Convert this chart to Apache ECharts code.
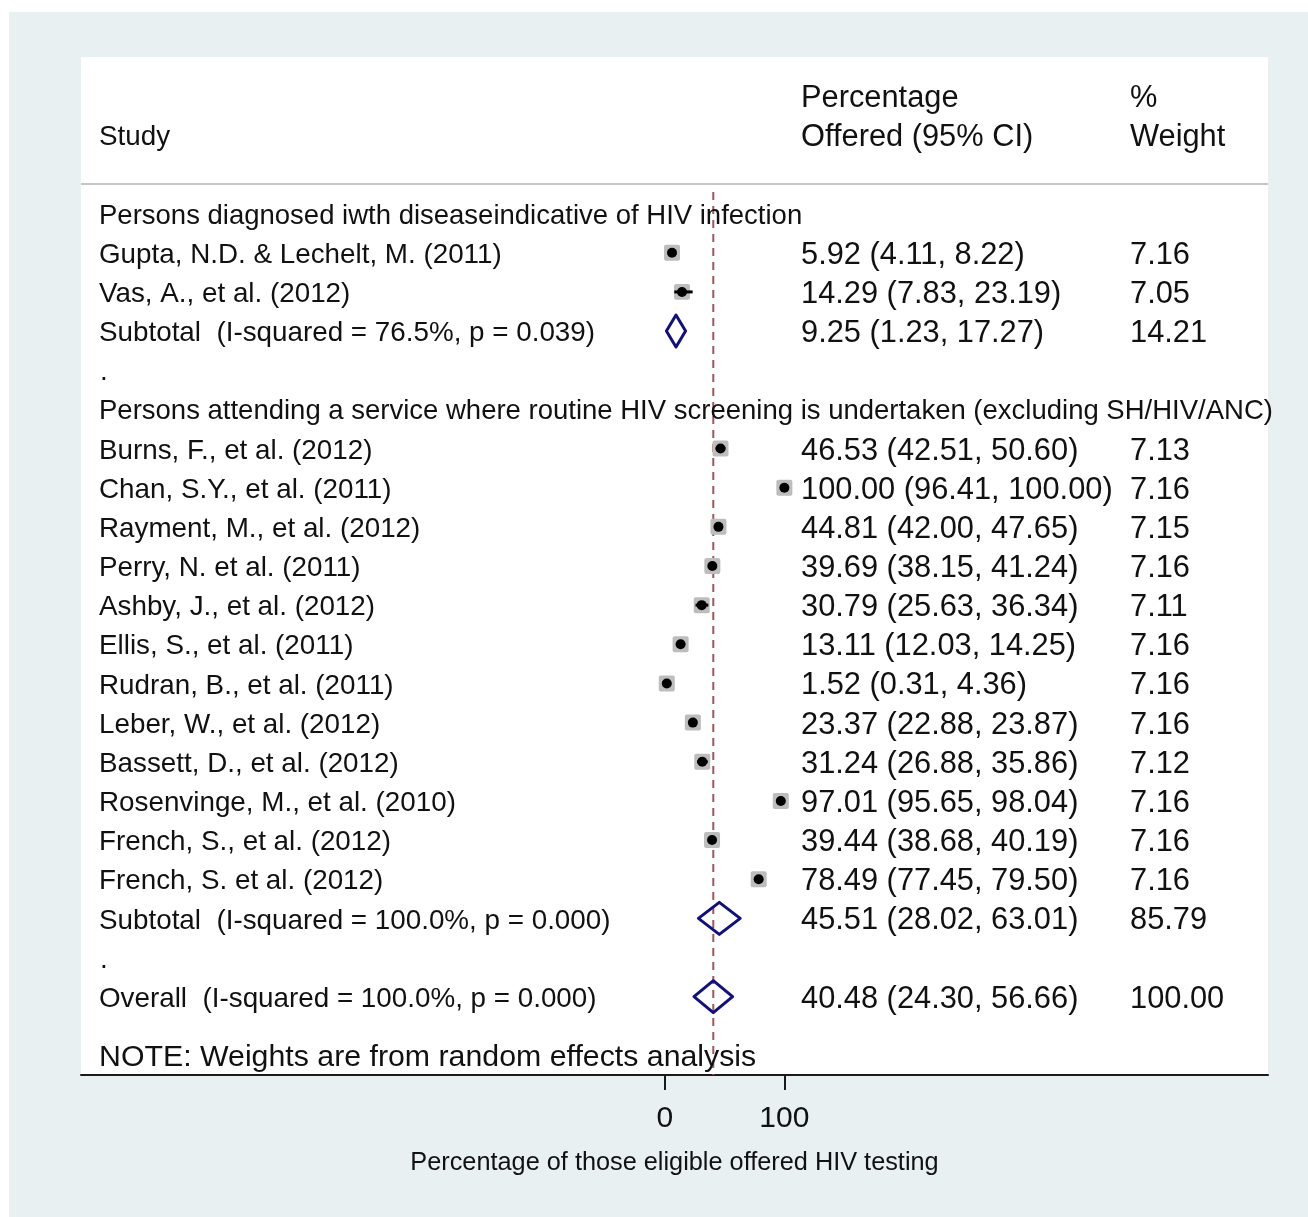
<!DOCTYPE html>
<html>
<head>
<meta charset="utf-8">
<title>Percentage of those eligible offered HIV testing</title>
<script src="https://cdn.jsdelivr.net/npm/echarts@6/dist/echarts.min.js"></script>
<style>
  html, body { margin: 0; padding: 0; background: #ffffff; }
  #chart { width: 1308px; height: 1217px; }
</style>
</head>
<body>
<div id="chart"></div>
<script>
// ---- Subgroup 1 ----
const group1Title = "Persons diagnosed iwth diseaseindicative of HIV infection";
const group1Studies = ["Gupta, N.D. & Lechelt, M. (2011)", "Vas, A., et al. (2012)"];
const group1Estimate = [5.92, 14.29];
const group1Lower = [4.11, 7.83];
const group1Upper = [8.22, 23.19];
const group1Weight = [7.16, 7.05];

// ---- Subgroup 2 ----
const group2Title = "Persons attending a service where routine HIV screening is undertaken (excluding SH/HIV/ANC)";
const group2Studies = [
  "Burns, F., et al. (2012)",
  "Chan, S.Y., et al. (2011)",
  "Rayment, M., et al. (2012)",
  "Perry, N. et al. (2011)",
  "Ashby, J., et al. (2012)",
  "Ellis, S., et al. (2011)",
  "Rudran, B., et al. (2011)",
  "Leber, W., et al. (2012)",
  "Bassett, D., et al. (2012)",
  "Rosenvinge, M., et al. (2010)",
  "French, S., et al. (2012)",
  "French, S. et al. (2012)"
];
const group2Estimate = [46.53, 100.00, 44.81, 39.69, 30.79, 13.11, 1.52, 23.37, 31.24, 97.01, 39.44, 78.49];
const group2Lower = [42.51, 96.41, 42.00, 38.15, 25.63, 12.03, 0.31, 22.88, 26.88, 95.65, 38.68, 77.45];
const group2Upper = [50.60, 100.00, 47.65, 41.24, 36.34, 14.25, 4.36, 23.87, 35.86, 98.04, 40.19, 79.50];
const group2Weight = [7.13, 7.16, 7.15, 7.16, 7.11, 7.16, 7.16, 7.16, 7.12, 7.16, 7.16, 7.16];

// ---- Pooled estimates ----
const subtotalLabels = ["Subtotal  (I-squared = 76.5%, p = 0.039)", "Subtotal  (I-squared = 100.0%, p = 0.000)"];
const subtotalEstimate = [9.25, 45.51];
const subtotalLower = [1.23, 28.02];
const subtotalUpper = [17.27, 63.01];
const subtotalWeight = [14.21, 85.79];

const overallLabel = "Overall  (I-squared = 100.0%, p = 0.000)";
const overallEstimate = 40.48;
const overallLower = 24.30;
const overallUpper = 56.66;
const overallWeight = 100.00;

// ---- Text ----
const headerStudy = "Study";
const headerEstimate = ["Percentage", "Offered (95% CI)"];
const headerWeight = ["%", "Weight"];
const noteText = "NOTE: Weights are from random effects analysis";
const axisTitle = "Percentage of those eligible offered HIV testing";
const xTicks = [0, 100];

// ---- Layout / style ----
const FONT = '"Liberation Sans", Arial, Helvetica, sans-serif';
const TEXT = '#111111';
const LABEL_SIZE = 27.8;
const NUM_SIZE = 30.8;
const TEXT_DY = 2.5;
const COL_STUDY = 99, COL_EST = 801, COL_WT = 1130;
const NAVY = '#10107e';
const BOX = '#bdbdbd';

function fontAvailable(name) {
  const ctx = document.createElement('canvas').getContext('2d');
  const probe = 'Percentage of those eligible';
  ctx.font = '30px monospace';
  const a = ctx.measureText(probe).width;
  ctx.font = '30px "' + name + '", monospace';
  const b = ctx.measureText(probe).width;
  return Math.abs(a - b) > 0.5;
}
const narrow = fontAvailable('Liberation Sans Narrow');
const titleFont = narrow
  ? { family: '"Liberation Sans Narrow", "Liberation Sans", sans-serif', size: 30.5 }
  : { family: FONT, size: 25.3 };

const fmt = v => v.toFixed(2);
const ciText = (e, l, u) => fmt(e) + ' (' + fmt(l) + ', ' + fmt(u) + ')';

// ---- Row list ----
const rows = [];
rows.push({ kind: 'header', row: -3, est: headerEstimate[0], wt: headerWeight[0] });
rows.push({ kind: 'header', row: -2, study: headerStudy, est: headerEstimate[1], wt: headerWeight[1] });
let r = 0;
function addGroup(title, names, est, lo, hi, wt, g) {
  rows.push({ kind: 'title', row: r++, text: title });
  names.forEach((n, i) => rows.push({ kind: 'study', row: r++, label: n, e: est[i], l: lo[i], u: hi[i], w: wt[i] }));
  rows.push({ kind: 'pooled', row: r++, label: subtotalLabels[g], e: subtotalEstimate[g], l: subtotalLower[g], u: subtotalUpper[g], w: subtotalWeight[g] });
  rows.push({ kind: 'blank', row: r++ });
}
addGroup(group1Title, group1Studies, group1Estimate, group1Lower, group1Upper, group1Weight, 0);
addGroup(group2Title, group2Studies, group2Estimate, group2Lower, group2Upper, group2Weight, 1);
rows.push({ kind: 'pooled', row: r++, label: overallLabel, e: overallEstimate, l: overallLower, u: overallUpper, w: overallWeight });
rows.push({ kind: 'note', row: r + 0.5, text: noteText });

function text(x, y, s, size, family) {
  return {
    type: 'text',
    style: { x: x, y: y + TEXT_DY, text: s, fontSize: size, fontFamily: family || FONT, fill: TEXT, align: 'left', verticalAlign: 'middle' }
  };
}

function renderRow(params, api) {
  const d = rows[params.dataIndex];
  const y = api.coord([0, d.row])[1];
  const X = v => api.coord([v, d.row])[0];
  const els = [];
  switch (d.kind) {
    case 'header':
      if (d.study) els.push(text(COL_STUDY, y, d.study, LABEL_SIZE));
      els.push(text(COL_EST, y, d.est, NUM_SIZE));
      els.push(text(COL_WT, y, d.wt, NUM_SIZE));
      break;
    case 'title':
      els.push(text(COL_STUDY, y, d.text, LABEL_SIZE - 0.3));
      break;
    case 'blank':
      els.push(text(COL_STUDY + 1, y, '.', LABEL_SIZE));
      break;
    case 'study': {
      const h = 8 * Math.sqrt(d.w / 7.16);
      const cx = X(d.e);
      els.push({ type: 'rect', shape: { x: cx - h, y: y - h, width: 2 * h, height: 2 * h, r: 2 }, style: { fill: BOX } });
      els.push({ type: 'line', shape: { x1: X(d.l), y1: y, x2: X(d.u), y2: y }, style: { stroke: '#000', lineWidth: 3 } });
      els.push({ type: 'circle', shape: { cx: cx, cy: y, r: 5 }, style: { fill: '#000' } });
      els.push(text(COL_STUDY, y, d.label, LABEL_SIZE));
      els.push(text(COL_EST, y, ciText(d.e, d.l, d.u), NUM_SIZE));
      els.push(text(COL_WT, y, fmt(d.w), NUM_SIZE));
      break;
    }
    case 'pooled': {
      const hh = 16;
      els.push({
        type: 'polygon',
        shape: { points: [[X(d.l), y], [X(d.e), y - hh], [X(d.u), y], [X(d.e), y + hh]] },
        style: { fill: 'none', stroke: NAVY, lineWidth: 3, lineJoin: 'round' }
      });
      els.push(text(COL_STUDY, y, d.label, LABEL_SIZE));
      els.push(text(COL_EST, y, ciText(d.e, d.l, d.u), NUM_SIZE));
      els.push(text(COL_WT, y, fmt(d.w), NUM_SIZE));
      break;
    }
    case 'note':
      els.push(text(COL_STUDY, y, d.text, NUM_SIZE - 0.5));
      break;
  }
  return { type: 'group', children: els };
}

const chart = echarts.init(document.getElementById('chart'), null, { renderer: 'canvas' });
chart.setOption({
  backgroundColor: '#e8f0f2',
  animation: false,
  graphic: [
    { type: 'rect', shape: { x: 0, y: 0, width: 1308, height: 12 }, style: { fill: '#ffffff' } },
    { type: 'rect', shape: { x: 0, y: 0, width: 9, height: 1217 }, style: { fill: '#ffffff' } },
    { type: 'line', shape: { x1: 81, y1: 184, x2: 1268, y2: 184 }, style: { stroke: '#c6c6c6', lineWidth: 2 } }
  ],
  grid: { left: 81, top: 57, right: 40, bottom: 142, show: true, backgroundColor: '#ffffff', borderWidth: 0 },
  xAxis: {
    type: 'value',
    position: 'bottom',
    min: -489,
    max: 505,
    axisLine: { show: true, onZero: false, lineStyle: { color: '#1a1a1a', width: 2 } },
    axisTick: { show: true, customValues: xTicks, length: 15, lineStyle: { color: '#1a1a1a', width: 2 } },
    axisLabel: { show: true, customValues: xTicks, margin: 29, fontSize: 30, fontFamily: FONT, color: TEXT },
    splitLine: { show: false },
    name: axisTitle,
    nameLocation: 'middle',
    nameGap: 76,
    nameTextStyle: { fontSize: titleFont.size, fontFamily: titleFont.family, color: TEXT }
  },
  yAxis: { type: 'value', min: -4, max: 22, inverse: true, show: false },
  series: [
    {
      type: 'line',
      data: [[overallEstimate, -0.55], [overallEstimate, 22]],
      symbol: 'none',
      silent: true,
      z: 2,
      lineStyle: { color: '#a3545c', width: 2, type: [8, 6] }
    },
    {
      type: 'custom',
      z: 3,
      clip: false,
      data: rows.map(d => [typeof d.e === 'number' ? d.e : 0, d.row]),
      encode: { x: 0, y: 1 },
      renderItem: renderRow
    }
  ]
});
</script>
</body>
</html>
